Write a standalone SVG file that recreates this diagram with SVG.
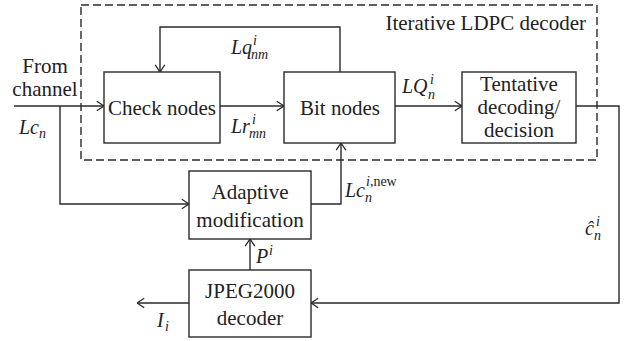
<svg xmlns="http://www.w3.org/2000/svg" width="629" height="341" viewBox="0 0 629 341">
  <style>
    .box { fill: #ffffff; stroke: #2a2a2a; stroke-width: 1.4; }
    .wire { fill: none; stroke: #2a2a2a; stroke-width: 1.4; }
    .frame { fill: none; stroke: #2a2a2a; stroke-width: 1.4; stroke-dasharray: 8 4; }
    text { font-family: 'Liberation Serif', 'Times New Roman', Times, serif; font-size: 21px; fill: #222222; }
    .mid { text-anchor: middle; }
    .m { font-style: italic; font-size: 20px; }
    .s { font-size: 14px; }
    .up { font-style: normal; }
  </style>
  <defs>
    <marker id="arrow" viewBox="0 0 10 14" refX="10" refY="7" markerWidth="8" markerHeight="12" markerUnits="userSpaceOnUse" orient="auto">
      <path d="M1,1 L10,7 L1,13" fill="none" stroke="#2a2a2a" stroke-width="1.6"/>
    </marker>
  </defs>

  <!-- decoder frame -->
  <g id="ldpc-frame">
    <rect class="frame" x="81" y="5" width="516" height="155"/>
    <text x="586" y="30" text-anchor="end">Iterative LDPC decoder</text>
  </g>

  <!-- connectors -->
  <g id="connectors">
    <!-- channel input into check nodes -->
    <line class="wire" x1="14" y1="106" x2="104" y2="106" marker-end="url(#arrow)"/>
    <!-- channel branch into adaptive modification -->
    <polyline class="wire" points="60,106 60,204 189,204" marker-end="url(#arrow)"/>
    <!-- check nodes to bit nodes -->
    <line class="wire" x1="220" y1="106" x2="284" y2="106" marker-end="url(#arrow)"/>
    <!-- bit nodes feedback to check nodes -->
    <polyline class="wire" points="340,72 340,27 160,27 160,72" marker-end="url(#arrow)"/>
    <!-- bit nodes to tentative decision -->
    <line class="wire" x1="395" y1="106" x2="462" y2="106" marker-end="url(#arrow)"/>
    <!-- tentative decision to JPEG2000 decoder -->
    <polyline class="wire" points="576,106 619,106 619,303 311,303" marker-end="url(#arrow)"/>
    <!-- adaptive modification to bit nodes -->
    <polyline class="wire" points="311,204 341,204 341,143" marker-end="url(#arrow)"/>
    <!-- JPEG2000 decoder to adaptive modification -->
    <line class="wire" x1="250" y1="270" x2="250" y2="239" marker-end="url(#arrow)"/>
    <!-- decoded image out -->
    <line class="wire" x1="189" y1="303" x2="137" y2="303" marker-end="url(#arrow)"/>
  </g>

  <!-- nodes -->
  <g id="check-nodes">
    <rect class="box" x="104" y="72" width="116" height="71"/>
    <text class="mid" x="162" y="115">Check nodes</text>
  </g>
  <g id="bit-nodes">
    <rect class="box" x="284" y="72" width="111" height="71"/>
    <text class="mid" x="340" y="115">Bit nodes</text>
  </g>
  <g id="tentative-decision">
    <rect class="box" x="462" y="72" width="114" height="71"/>
    <text class="mid" x="519" y="91">Tentative</text>
    <text class="mid" x="519" y="114">decoding/</text>
    <text class="mid" x="519" y="137">decision</text>
  </g>
  <g id="adaptive-modification">
    <rect class="box" x="189" y="171" width="122" height="68"/>
    <text class="mid" x="250" y="199">Adaptive</text>
    <text class="mid" x="250" y="227">modification</text>
  </g>
  <g id="jpeg2000-decoder">
    <rect class="box" x="189" y="270" width="122" height="67"/>
    <text class="mid" x="250" y="298">JPEG2000</text>
    <text class="mid" x="250" y="325">decoder</text>
  </g>

  <!-- signal labels -->
  <g id="labels">
    <text class="mid" x="45" y="73">From</text>
    <text class="mid" x="45" y="96">channel</text>

    <text class="m" x="19" y="134">Lc<tspan class="s" x="39" y="138">n</tspan></text>

    <text class="m" x="231" y="54">Lq<tspan class="s" x="253" y="45">i</tspan><tspan class="s" x="251" y="59">nm</tspan></text>

    <text class="m" x="231" y="133">Lr<tspan class="s" x="252" y="124">i</tspan><tspan class="s" x="249" y="138">mn</tspan></text>

    <text class="m" x="402" y="93">LQ<tspan class="s" x="430" y="84">i</tspan><tspan class="s" x="428" y="99">n</tspan></text>

    <text class="m" x="345" y="197">Lc<tspan class="s" x="366" y="186">i,<tspan class="up">new</tspan></tspan><tspan class="s" x="365" y="202">n</tspan></text>

    <text class="m" x="585" y="235">ĉ<tspan class="s" x="596" y="226">i</tspan><tspan class="s" x="594" y="240">n</tspan></text>

    <text class="m" x="256" y="263">P<tspan class="s" x="269" y="255">i</tspan></text>

    <text class="m" x="157" y="327">I<tspan class="s" x="165" y="331">i</tspan></text>
  </g>
</svg>
